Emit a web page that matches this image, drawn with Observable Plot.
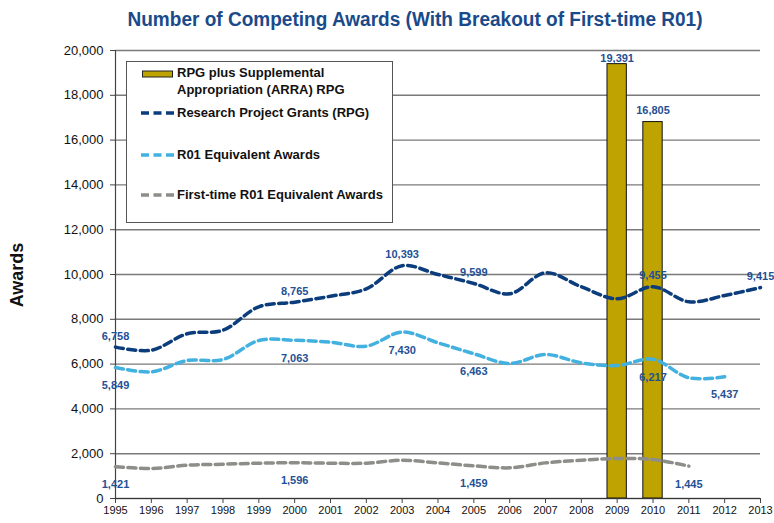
<!DOCTYPE html>
<html>
<head>
<meta charset="utf-8">
<script src="https://cdn.jsdelivr.net/npm/d3@7"></script>
<script src="https://cdn.jsdelivr.net/npm/@observablehq/plot@0.6"></script>
<style>
  body { margin: 0; background: #fff; }
  #wrap { position: relative; width: 774px; height: 523px; overflow: hidden; font-family: "Liberation Sans", Arial, sans-serif; }
  #title { position: absolute; left: 415px; top: 8px; transform-origin: 0 0;
           font-family: "Liberation Sans", Arial, sans-serif;
           font-weight: bold; font-size: 20px; line-height: 22px; color: #1A4A8A; white-space: nowrap; display: inline-block; }
  #chart { position: absolute; left: 0; top: 40px; }
  #ylabel { position: absolute; left: 17px; top: 275px; transform: translate(-50%, -50%) rotate(-90deg);
            font-weight: bold; font-size: 18px; color: #111; white-space: nowrap; }
  #legend { position: absolute; left: 126px; top: 61px; width: 267px; height: 162px; box-sizing: border-box;
            background: #fff; border: 1px solid #555; font-weight: bold; font-size: 13px; color: #111; }
  .item { position: absolute; left: 14px; display: flex; align-items: center; white-space: nowrap; }
  .item svg { margin-right: 2px; flex: none; }
  .txt { line-height: 16.5px; }
</style>
</head>
<body>
<div id="wrap">
  <div id="title"></div>
  <div id="chart"></div>
  <div id="ylabel"></div>
  <div id="legend"></div>
</div>
<script>
// ---- Data ----
const years = [1995, 1996, 1997, 1998, 1999, 2000, 2001, 2002, 2003, 2004, 2005, 2006, 2007, 2008, 2009, 2010, 2011, 2012, 2013];
const rpg = [6758, 6620, 7353, 7513, 8558, 8765, 9031, 9360, 10393, 10000, 9599, 9138, 10076, 9450, 8915, 9455, 8780, 9063, 9415];
const r01 = [5849, 5656, 6160, 6205, 7054, 7063, 6978, 6800, 7430, 6950, 6463, 6027, 6429, 6056, 5937, 6217, 5387, 5437];
const firstR01 = [1421, 1339, 1487, 1531, 1576, 1596, 1576, 1576, 1710, 1590, 1459, 1370, 1590, 1710, 1786, 1741, 1445];
const arraYears = [2009, 2010];
const arraValues = [19391, 16805];
const rpgLabelYears = [1995, 2000, 2003, 2005, 2010, 2013];
const r01LabelYears = [1995, 2000, 2003, 2005, 2010, 2012];
const firstLabelYears = [1995, 2000, 2005, 2011];
const yTicks = [0, 2000, 4000, 6000, 8000, 10000, 12000, 14000, 16000, 18000, 20000];
const seriesNames = ["RPG plus Supplemental\nAppropriation (ARRA) RPG", "Research Project Grants (RPG)", "R01 Equivalent Awards", "First-time R01 Equivalent Awards"];
const titleText = "Number of Competing Awards (With Breakout of First-time R01)";
const yLabelText = "Awards";

// ---- Styles ----
const cBar = "#BFA300", cRpg = "#0B3C7C", cR01 = "#42B1E0", cFirst = "#8D8D89", cLabel = "#1F5196";
const dash = "8,4.5";

const toRows = (vals) => vals.map((v, i) => ({year: years[i], value: v}));
const rpgData = toRows(rpg), r01Data = toRows(r01), firstData = toRows(firstR01);
const barData = arraYears.map((y, i) => ({year: y, value: arraValues[i]}));
const fmt = d3.format(",");
const labelFont = {fontSize: 11, fontWeight: "bold", fill: cLabel, text: d => fmt(d.value)};

const chart = Plot.plot({
  width: 774, height: 483,
  marginLeft: 115, marginRight: 14, marginTop: 10, marginBottom: 25,
  x: {domain: [1995, 2013]},
  y: {domain: [0, 20000]},
  style: {fontFamily: "'Liberation Sans', Arial, sans-serif", color: "#111", background: "transparent", overflow: "visible"},
  marks: [
    Plot.ruleY(yTicks, {stroke: "#7a7a7a", strokeWidth: 1.4}),
    Plot.rectY(barData, {x1: d => d.year - 0.27, x2: d => d.year + 0.27, y1: 0, y2: "value", fill: cBar, stroke: "#111", strokeWidth: 1}),
    Plot.ruleX([1995], {stroke: "#444", strokeWidth: 1.2}),
    Plot.ruleY([0], {stroke: "#333", strokeWidth: 1.2}),
    Plot.axisY({ticks: yTicks, tickFormat: d => fmt(d), tickSize: 5, tickPadding: 7, fontSize: 13, label: null, stroke: "#444"}),
    Plot.axisX({ticks: years, tickFormat: d => String(d), tickSize: 5, tickPadding: 3, fontSize: 11, label: null, stroke: "#444"}),
    Plot.line(firstData, {x: "year", y: "value", stroke: cFirst, strokeWidth: 3.5, strokeDasharray: dash, curve: "catmull-rom"}),
    Plot.line(r01Data, {x: "year", y: "value", stroke: cR01, strokeWidth: 3.5, strokeDasharray: dash, curve: "catmull-rom"}),
    Plot.line(rpgData, {x: "year", y: "value", stroke: cRpg, strokeWidth: 3.5, strokeDasharray: dash, curve: "catmull-rom"}),
    Plot.text(rpgData.filter(d => rpgLabelYears.includes(d.year)), {x: "year", y: "value", dy: -11, ...labelFont}),
    Plot.text(r01Data.filter(d => r01LabelYears.includes(d.year)), {x: "year", y: "value", dy: 18, ...labelFont}),
    Plot.text(firstData.filter(d => firstLabelYears.includes(d.year)), {x: "year", y: "value", dy: 18, ...labelFont}),
    Plot.text(barData.filter(d => d.year === 2009), {x: "year", y: "value", dy: -6, ...labelFont}),
    Plot.text(barData.filter(d => d.year === 2010), {x: "year", y: "value", dy: -12, ...labelFont})
  ]
});
document.getElementById("chart").appendChild(chart);

// Title: condensed to match the narrow face of the original
const title = document.getElementById("title");
title.textContent = titleText;
const tw = title.getBoundingClientRect().width;
const sx = 575 / tw;
title.style.transform = `scaleX(${sx}) translateX(${-tw / 2}px)`;

document.getElementById("ylabel").textContent = yLabelText;

// ---- Legend ----
const legend = document.getElementById("legend");
const items = [
  {name: seriesNames[0], type: "rect", color: cBar, top: 3},
  {name: seriesNames[1], type: "line", color: cRpg, top: 43},
  {name: seriesNames[2], type: "line", color: cR01, top: 84.5},
  {name: seriesNames[3], type: "line", color: cFirst, top: 125}
];
items.forEach(it => {
  const div = document.createElement("div");
  div.className = "item";
  div.style.top = it.top + "px";
  const ns = "http://www.w3.org/2000/svg";
  const svg = document.createElementNS(ns, "svg");
  svg.setAttribute("width", 34); svg.setAttribute("height", 10);
  if (it.type === "rect") {
    const r = document.createElementNS(ns, "rect");
    r.setAttribute("x", 1.5); r.setAttribute("y", 2); r.setAttribute("width", 30); r.setAttribute("height", 6);
    r.setAttribute("fill", it.color); r.setAttribute("stroke", "#222"); r.setAttribute("stroke-width", 1);
    svg.appendChild(r);
    svg.style.alignSelf = "flex-start"; svg.style.marginTop = "4px";
  } else {
    const l = document.createElementNS(ns, "line");
    l.setAttribute("x1", 0); l.setAttribute("x2", 34); l.setAttribute("y1", 5); l.setAttribute("y2", 5);
    l.setAttribute("stroke", it.color); l.setAttribute("stroke-width", 3.5); l.setAttribute("stroke-dasharray", "8,4.5");
    svg.appendChild(l);
  }
  div.appendChild(svg);
  const t = document.createElement("div");
  t.className = "txt";
  it.name.split("\n").forEach((line, i) => {
    if (i) t.appendChild(document.createElement("br"));
    t.appendChild(document.createTextNode(line));
  });
  div.appendChild(t);
  legend.appendChild(div);
});
</script>
</body>
</html>
